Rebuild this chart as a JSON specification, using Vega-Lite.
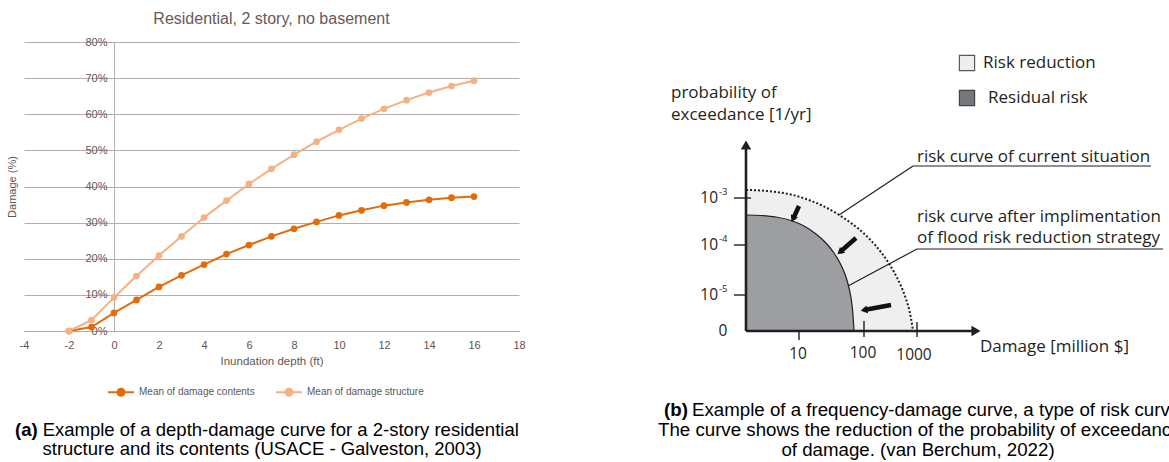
{
 "$schema": "https://vega.github.io/schema/vega-lite/v6.json",
 "background": "white",
 "padding": {"left": 6, "top": 11, "right": 0, "bottom": 0},
 "spacing": 15,
 "config": {"view": {"stroke": null}, "font": "Liberation Sans"},
 "resolve": {"scale": {"color": "independent"}, "legend": {"color": "independent"}},
 "datasets": {
  "damage": [
   {"series": "Mean of damage contents", "depth": -2, "damage": 0.0},
   {"series": "Mean of damage contents", "depth": -1, "damage": 0.011},
   {"series": "Mean of damage contents", "depth": 0, "damage": 0.050},
   {"series": "Mean of damage contents", "depth": 1, "damage": 0.086},
   {"series": "Mean of damage contents", "depth": 2, "damage": 0.122},
   {"series": "Mean of damage contents", "depth": 3, "damage": 0.154},
   {"series": "Mean of damage contents", "depth": 4, "damage": 0.184},
   {"series": "Mean of damage contents", "depth": 5, "damage": 0.213},
   {"series": "Mean of damage contents", "depth": 6, "damage": 0.238},
   {"series": "Mean of damage contents", "depth": 7, "damage": 0.262},
   {"series": "Mean of damage contents", "depth": 8, "damage": 0.283},
   {"series": "Mean of damage contents", "depth": 9, "damage": 0.302},
   {"series": "Mean of damage contents", "depth": 10, "damage": 0.320},
   {"series": "Mean of damage contents", "depth": 11, "damage": 0.334},
   {"series": "Mean of damage contents", "depth": 12, "damage": 0.347},
   {"series": "Mean of damage contents", "depth": 13, "damage": 0.356},
   {"series": "Mean of damage contents", "depth": 14, "damage": 0.363},
   {"series": "Mean of damage contents", "depth": 15, "damage": 0.369},
   {"series": "Mean of damage contents", "depth": 16, "damage": 0.372},
   {"series": "Mean of damage structure", "depth": -2, "damage": 0.0},
   {"series": "Mean of damage structure", "depth": -1, "damage": 0.030},
   {"series": "Mean of damage structure", "depth": 0, "damage": 0.093},
   {"series": "Mean of damage structure", "depth": 1, "damage": 0.152},
   {"series": "Mean of damage structure", "depth": 2, "damage": 0.209},
   {"series": "Mean of damage structure", "depth": 3, "damage": 0.262},
   {"series": "Mean of damage structure", "depth": 4, "damage": 0.314},
   {"series": "Mean of damage structure", "depth": 5, "damage": 0.361},
   {"series": "Mean of damage structure", "depth": 6, "damage": 0.407},
   {"series": "Mean of damage structure", "depth": 7, "damage": 0.449},
   {"series": "Mean of damage structure", "depth": 8, "damage": 0.488},
   {"series": "Mean of damage structure", "depth": 9, "damage": 0.524},
   {"series": "Mean of damage structure", "depth": 10, "damage": 0.557},
   {"series": "Mean of damage structure", "depth": 11, "damage": 0.588},
   {"series": "Mean of damage structure", "depth": 12, "damage": 0.615},
   {"series": "Mean of damage structure", "depth": 13, "damage": 0.639},
   {"series": "Mean of damage structure", "depth": 14, "damage": 0.660},
   {"series": "Mean of damage structure", "depth": 15, "damage": 0.678},
   {"series": "Mean of damage structure", "depth": 16, "damage": 0.693}
  ],
  "capAbold": [{"depth": -4.4, "damage": -0.273, "t": "(a)"}],
  "capAleft": [{"depth": -3.17, "damage": -0.273, "t": "Example of a depth-damage curve for a 2-story residential"}],
  "capAcenter": [{"depth": 6.58, "damage": -0.328, "t": "structure and its contents (USACE - Galveston, 2003)"}],
  "outer": [
   {"x": 0, "y": 141}, {"x": 15, "y": 140.5}, {"x": 30, "y": 139}, {"x": 45, "y": 136.5},
   {"x": 60, "y": 132}, {"x": 75, "y": 126}, {"x": 90, "y": 118}, {"x": 105, "y": 108},
   {"x": 118, "y": 97.5}, {"x": 130, "y": 85}, {"x": 140, "y": 72}, {"x": 148, "y": 59},
   {"x": 155, "y": 45}, {"x": 160, "y": 32}, {"x": 164, "y": 18}, {"x": 166, "y": 7}, {"x": 167, "y": 0}
  ],
  "inner": [
   {"x": 0, "y": 116}, {"x": 15, "y": 115.5}, {"x": 30, "y": 114}, {"x": 45, "y": 110.5},
   {"x": 58, "y": 105}, {"x": 70, "y": 97}, {"x": 80, "y": 88}, {"x": 88, "y": 78},
   {"x": 95, "y": 66}, {"x": 100, "y": 54}, {"x": 103, "y": 43}, {"x": 105.5, "y": 30},
   {"x": 107, "y": 16}, {"x": 107.7, "y": 5}, {"x": 108, "y": 0}
  ],
  "axesB": [{"x": 0, "y": 0, "x2": 0, "y2": 182}, {"x": 0, "y": 0, "x2": 226, "y2": 0}],
  "axisHeads": [{"id": "y", "x": 0, "y": 186}, {"id": "x", "x": 230, "y": 0}],
  "ticksB": [
   {"x": -12, "y": 133, "x2": 5, "y2": 133},
   {"x": -12, "y": 86, "x2": 0, "y2": 86},
   {"x": -12, "y": 36, "x2": 0, "y2": 36},
   {"x": 53, "y": 0, "x2": 53, "y2": -9},
   {"x": 118, "y": 10, "x2": 118, "y2": -6},
   {"x": 171, "y": 9, "x2": 171, "y2": -6}
  ],
  "leaders": [
   {"x": 167, "y": 165, "x2": 93, "y2": 116},
   {"x": 167, "y": 165, "x2": 405, "y2": 165},
   {"x": 171, "y": 82, "x2": 102, "y2": 45},
   {"x": 171, "y": 82, "x2": 417, "y2": 82}
  ],
  "arrowBars": [
   {"x": 53, "y": 125, "x2": 47, "y2": 112},
   {"x": 110, "y": 93, "x2": 94, "y2": 79},
   {"x": 145, "y": 26, "x2": 118, "y2": 21}
  ],
  "arrowHeads": [{"id": 1, "x": 47, "y": 112}, {"id": 2, "x": 94, "y": 79}, {"id": 3, "x": 118, "y": 21}],
  "legB": [{"id": "reduction", "x": 221, "y": 268}, {"id": "residual", "x": 221, "y": 233}],
  "txtB": [
   {"x": -75, "y": 238, "t": "probability of"},
   {"x": -75, "y": 216, "t": "exceedance [1/yr]"},
   {"x": 234, "y": -16, "t": "Damage [million $]"},
   {"x": 171, "y": 174, "t": "risk curve of current situation"},
   {"x": 171, "y": 114, "t": "risk curve after implimentation"},
   {"x": 171, "y": 93, "t": "of flood risk reduction strategy"},
   {"x": 237, "y": 268, "t": "Risk reduction"},
   {"x": 242, "y": 233, "t": "Residual risk"}
  ],
  "tickLab": [
   {"x": -23, "y": 0, "t": "0"},
   {"x": 52, "y": -23, "t": "10"},
   {"x": 117, "y": -22, "t": "100"},
   {"x": 168, "y": -24, "t": "1000"}
  ],
  "supBase": [{"x": -28, "y": 133, "t": "10"}, {"x": -28, "y": 86, "t": "10"}, {"x": -28, "y": 36, "t": "10"}],
  "supExp": [{"x": -27, "y": 139, "t": "-3"}, {"x": -27, "y": 92, "t": "-4"}, {"x": -27, "y": 42, "t": "-5"}],
  "capBbold": [{"x": -82, "y": -79, "t": "(b)"}],
  "capBleft": [
   {"x": -54, "y": -79, "t": "Example of a frequency-damage curve, a type of risk curve."},
   {"x": -88, "y": -99, "t": "The curve shows the reduction of the probability of exceedance"}
  ],
  "capBcenter": [{"x": 172, "y": -119, "t": "of damage. (van Berchum, 2022)"}]
 },
 "hconcat": [
  {
   "width": 495,
   "height": 289,
   "title": {"text": "Residential, 2 story, no basement", "font": "Liberation Sans", "fontSize": 16, "fontWeight": "normal", "color": "#6b5858", "anchor": "middle", "offset": 9},
   "encoding": {
    "x": {"field": "depth", "type": "quantitative", "scale": {"domain": [-4, 18], "nice": false, "zero": false},
     "axis": {"values": [-4, -2, 0, 2, 4, 6, 8, 10, 12, 14, 16, 18], "labelExpr": "'' + datum.value", "title": "Inundation depth (ft)", "grid": false, "ticks": false, "domain": true, "domainColor": "#b3adad", "labelFontSize": 11, "labelColor": "#5f5555", "labelPadding": 8, "labelFont": "Liberation Sans", "labelFlush": false, "labelOverlap": false, "titleFont": "Liberation Sans", "titleFontSize": 11.5, "titleFontWeight": "normal", "titleColor": "#5f5555", "titlePadding": 5}},
    "y": {"field": "damage", "type": "quantitative", "scale": {"domain": [0, 0.8], "nice": false, "zero": false},
     "axis": {"values": [0, 0.1, 0.2, 0.3, 0.4, 0.5, 0.6, 0.7, 0.8], "format": ".0%", "title": "Damage (%)", "offset": -90, "grid": true, "gridColor": "#b3adad", "gridWidth": 1, "ticks": false, "domainColor": "#b3adad", "labelFontSize": 11, "labelFont": "Liberation Sans", "labelColor": "#5f5555", "labelPadding": 7, "labelFlush": false, "labelOverlap": false, "titleX": -102, "titleY": 144.5, "titleBaseline": "middle", "titleAlign": "center", "titleAngle": -90, "titleFont": "Liberation Sans", "titleFontSize": 11, "titleFontWeight": "normal", "titleColor": "#5f5555"}}
   },
   "layer": [
    {"data": {"name": "damage"}, "mark": {"type": "line", "strokeWidth": 2},
     "encoding": {"color": {"field": "series", "type": "nominal", "scale": {"domain": ["Mean of damage contents", "Mean of damage structure"], "range": ["#E36C0A", "#F4B183"]},
      "legend": {"orient": "none", "legendX": 83, "legendY": 336, "direction": "horizontal", "title": null, "symbolType": "M-1,0H1M0.27,0A0.27,0.27,0,1,1,-0.27,0A0.27,0.27,0,1,1,0.27,0", "symbolSize": 676, "symbolStrokeWidth": 2, "labelFontSize": 10, "labelFont": "Liberation Sans", "labelColor": "#595959", "labelOffset": 4, "columnPadding": 17,
       "encode": {"symbols": {"update": {"fill": {"scale": "color", "field": "value"}, "stroke": {"scale": "color", "field": "value"}, "opacity": {"value": 1}}}}}}}},
    {"data": {"name": "damage"}, "mark": {"type": "point", "filled": true, "size": 45, "opacity": 1, "strokeWidth": 0},
     "encoding": {"color": {"field": "series", "type": "nominal", "scale": {"domain": ["Mean of damage contents", "Mean of damage structure"], "range": ["#E36C0A", "#F4B183"]},
      "legend": {"orient": "none", "legendX": 83, "legendY": 336, "direction": "horizontal", "title": null, "symbolType": "M-1,0H1M0.27,0A0.27,0.27,0,1,1,-0.27,0A0.27,0.27,0,1,1,0.27,0", "symbolSize": 676, "symbolStrokeWidth": 2, "labelFontSize": 10, "labelFont": "Liberation Sans", "labelColor": "#595959", "labelOffset": 4, "columnPadding": 17,
       "encode": {"symbols": {"update": {"fill": {"scale": "color", "field": "value"}, "stroke": {"scale": "color", "field": "value"}, "opacity": {"value": 1}}}}}}}},
    {"data": {"name": "capAbold"}, "mark": {"type": "text", "align": "left", "baseline": "middle", "fontSize": 18.5, "fontWeight": "bold", "font": "Liberation Sans", "color": "#000000", "clip": false}, "encoding": {"text": {"field": "t"}}},
    {"data": {"name": "capAleft"}, "mark": {"type": "text", "align": "left", "baseline": "middle", "fontSize": 18.5, "font": "Liberation Sans", "color": "#000000", "clip": false}, "encoding": {"text": {"field": "t"}}},
    {"data": {"name": "capAcenter"}, "mark": {"type": "text", "align": "center", "baseline": "middle", "fontSize": 18.5, "font": "Liberation Sans", "color": "#000000", "clip": false}, "encoding": {"text": {"field": "t"}}}
   ]
  },
  {
   "width": 629,
   "height": 419,
   "encoding": {
    "x": {"field": "x", "type": "quantitative", "scale": {"domain": [-205, 424], "nice": false, "zero": false}, "axis": null},
    "y": {"field": "y", "type": "quantitative", "scale": {"domain": [-130, 289], "nice": false, "zero": false}, "axis": null}
   },
   "layer": [
    {"data": {"name": "outer"}, "mark": {"type": "area", "color": "#efefef", "interpolate": "monotone", "opacity": 1}, "encoding": {"y2": {"datum": 0}}},
    {"data": {"name": "inner"}, "mark": {"type": "area", "color": "#9c9ea1", "interpolate": "monotone", "opacity": 1}, "encoding": {"y2": {"datum": 0}}},
    {"data": {"name": "inner"}, "mark": {"type": "line", "color": "#231f20", "strokeWidth": 1.2, "interpolate": "monotone"}, "encoding": {}},
    {"data": {"name": "outer"}, "mark": {"type": "line", "color": "#231f20", "strokeWidth": 2, "strokeDash": [2, 2], "interpolate": "monotone"}, "encoding": {}},
    {"data": {"name": "axesB"}, "mark": {"type": "rule", "color": "#231f20", "strokeWidth": 2.6}, "encoding": {"x2": {"field": "x2"}, "y2": {"field": "y2"}}},
    {"data": {"name": "ticksB"}, "mark": {"type": "rule", "color": "#231f20", "strokeWidth": 1.4}, "encoding": {"x2": {"field": "x2"}, "y2": {"field": "y2"}}},
    {"data": {"name": "leaders"}, "mark": {"type": "rule", "color": "#231f20", "strokeWidth": 1.2}, "encoding": {"x2": {"field": "x2"}, "y2": {"field": "y2"}}},
    {"data": {"name": "arrowBars"}, "mark": {"type": "rule", "color": "#111111", "strokeWidth": 4.5}, "encoding": {"x2": {"field": "x2"}, "y2": {"field": "y2"}}},
    {"data": {"name": "axisHeads"}, "transform": [{"filter": "datum.id == 'y'"}], "mark": {"type": "point", "shape": "triangle-up", "filled": true, "size": 110, "color": "#231f20", "opacity": 1}},
    {"data": {"name": "axisHeads"}, "transform": [{"filter": "datum.id == 'x'"}], "mark": {"type": "point", "shape": "triangle-right", "filled": true, "size": 110, "color": "#231f20", "opacity": 1}},
    {"data": {"name": "arrowHeads"}, "transform": [{"filter": "datum.id == 1"}], "mark": {"type": "point", "shape": "triangle-up", "filled": true, "size": 60, "angle": 204, "color": "#111111", "opacity": 1}},
    {"data": {"name": "arrowHeads"}, "transform": [{"filter": "datum.id == 2"}], "mark": {"type": "point", "shape": "triangle-up", "filled": true, "size": 60, "angle": 229, "color": "#111111", "opacity": 1}},
    {"data": {"name": "arrowHeads"}, "transform": [{"filter": "datum.id == 3"}], "mark": {"type": "point", "shape": "triangle-up", "filled": true, "size": 60, "angle": 259, "color": "#111111", "opacity": 1}},
    {"data": {"name": "legB"}, "transform": [{"filter": "datum.id == 'reduction'"}], "mark": {"type": "point", "shape": "square", "size": 230, "filled": true, "fill": "#eeeeee", "stroke": "#58595b", "strokeWidth": 1.2, "opacity": 1}},
    {"data": {"name": "legB"}, "transform": [{"filter": "datum.id == 'residual'"}], "mark": {"type": "point", "shape": "square", "size": 230, "filled": true, "fill": "#75787b", "stroke": "#444444", "strokeWidth": 1.2, "opacity": 1}},
    {"data": {"name": "txtB"}, "mark": {"type": "text", "align": "left", "baseline": "middle", "font": "Open Sans", "fontSize": 17, "color": "#231f20"}, "encoding": {"text": {"field": "t"}}},
    {"data": {"name": "tickLab"}, "mark": {"type": "text", "align": "center", "baseline": "middle", "font": "Open Sans", "fontSize": 15.5, "color": "#231f20"}, "encoding": {"text": {"field": "t"}}},
    {"data": {"name": "supBase"}, "mark": {"type": "text", "align": "right", "baseline": "middle", "font": "Open Sans", "fontSize": 15.5, "color": "#231f20"}, "encoding": {"text": {"field": "t"}}},
    {"data": {"name": "supExp"}, "mark": {"type": "text", "align": "left", "baseline": "middle", "font": "Open Sans", "fontSize": 9.5, "color": "#231f20"}, "encoding": {"text": {"field": "t"}}},
    {"data": {"name": "capBbold"}, "mark": {"type": "text", "align": "left", "baseline": "middle", "font": "Liberation Sans", "fontSize": 18.7, "fontWeight": "bold", "color": "#000000", "clip": true}, "encoding": {"text": {"field": "t"}}},
    {"data": {"name": "capBleft"}, "mark": {"type": "text", "align": "left", "baseline": "middle", "font": "Liberation Sans", "fontSize": 18.7, "color": "#000000", "clip": true}, "encoding": {"text": {"field": "t"}}},
    {"data": {"name": "capBcenter"}, "mark": {"type": "text", "align": "center", "baseline": "middle", "font": "Liberation Sans", "fontSize": 18.7, "color": "#000000", "clip": true}, "encoding": {"text": {"field": "t"}}}
   ]
  }
 ]
}
